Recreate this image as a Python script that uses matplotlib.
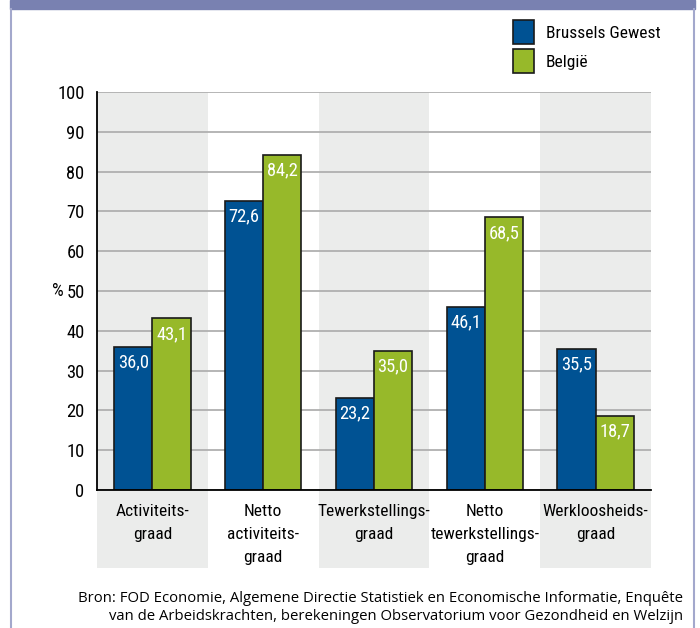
import numpy as np
import matplotlib
matplotlib.use('Agg')
from matplotlib import pyplot as plt
from matplotlib.patches import Rectangle
from matplotlib.lines import Line2D
from matplotlib import font_manager

# data ------------------------------------------------
categories = ['Activiteits-\ngraad', 'Netto\nactiviteits-\ngraad', 'Tewerkstellings-\ngraad',
              'Netto\ntewerkstellings-\ngraad', 'Werkloosheids-\ngraad']
brussel = [36.0, 72.6, 23.2, 46.1, 35.5]
belgie  = [43.1, 84.2, 35.0, 68.5, 18.7]
series_names = ['Brussels Gewest', 'België']
yticks = np.arange(0, 101, 10)
source = ('Bron: FOD Economie, Algemene Directie Statistiek en Economische Informatie, Enquête\n'
          'van de Arbeidskrachten, berekeningen Observatorium voor Gezondheid en Welzijn')

blue  = '#005293'
green = '#97b92a'
W, H = 700, 628

# pick a narrow font if there is one
fonts = font_manager.fontManager.ttflist
names = {f.name for f in fonts}
fam, stretch, fs = 'DejaVu Sans', 'normal', 10
for n in ['Liberation Sans Narrow', 'Roboto Condensed', 'Open Sans Condensed', 'Noto Sans Condensed']:
    if n in names:
        fam, fs = n, 12.5
        break
else:
    if any(f.name == 'DejaVu Sans' and f.stretch in ('condensed', 'semi-condensed') for f in fonts):
        stretch, fs = 'condensed', 11.5

def cf(size=fs):
    return font_manager.FontProperties(family=fam, stretch=stretch, weight='normal', size=size)

fig = plt.figure(figsize=(7, 6.28), dpi=100)

# frame + header band
fig.patches.append(Rectangle((10/W, 1-9/H), 685/W, 9/H, transform=fig.transFigure,
                             color='#7981b1', zorder=0))
for xp in (11, 694):
    fig.lines.append(Line2D([xp/W, xp/W], [0, 1-9/H], transform=fig.transFigure,
                            color='#a3a8cc', lw=1.5))

ax = fig.add_axes([97/W, 1-490/H, (651-97)/W, (490-92)/H])
x = np.arange(len(categories))
w = 0.345

# grey bands behind odd categories
for i in range(0, len(categories), 2):
    ax.axvspan(i-0.5, i+0.5, ymin=-0.196, ymax=1, color='#ebeceb', lw=0, zorder=0, clip_on=False)

ax.set_yticks(yticks)
ax.yaxis.grid(True, color='#b0b0b0', lw=1.3, zorder=1)
ax.set_axisbelow(False)

b1 = ax.bar(x - w/2, brussel, w, color=blue, edgecolor='#1a1a1a', lw=1.2, zorder=3)
b2 = ax.bar(x + w/2, belgie, w, color=green, edgecolor='#1a1a1a', lw=1.2, zorder=3)

for xs, vals in ((x - w/2, brussel), (x + w/2, belgie)):
    for xi, v in zip(xs, vals):
        ax.text(xi, v - 3.9, f'{v:.1f}'.replace('.', ','), ha='center', va='center',
                color='white', fontproperties=cf(fs + 0.8), zorder=4)

ax.set_xlim(-0.5, len(categories) - 0.5)
ax.set_ylim(0, 100)
for s in ('top', 'right'):
    ax.spines[s].set_visible(False)
for s in ('left', 'bottom'):
    ax.spines[s].set_linewidth(1.3)
    ax.spines[s].set_zorder(5)
ax.tick_params(length=0, pad=9)
ax.set_yticklabels([str(t) for t in yticks], fontproperties=cf(fs + 0.8))
ax.set_xticks(x)
ax.set_xticklabels(categories, fontproperties=cf(), linespacing=1.68, va='top')
ax.tick_params(axis='x', pad=10)
ax.set_ylabel('%', fontproperties=cf(fs + 0.8), rotation=0, va='center', ha='center')
ax.yaxis.set_label_coords((58 - 97) / 554, 0.5)

# legend drawn by hand: coloured square + label
for k, (name, col) in enumerate(zip(series_names, [blue, green])):
    top = 20 + k * 29
    fig.patches.append(Rectangle((513/W, 1-(top+24)/H), 21/W, 24/H, transform=fig.transFigure,
                                 facecolor=col, edgecolor='#1a1a1a', lw=1.2))
    fig.text(546/W, 1-(top+13)/H, name, ha='left', va='center', fontproperties=cf())

fig.text(683/W, 1-591/H, source, ha='right', va='top', fontsize=10.7,
         family='Open Sans', linespacing=1.3)

plt.savefig('out.png', dpi=100)
